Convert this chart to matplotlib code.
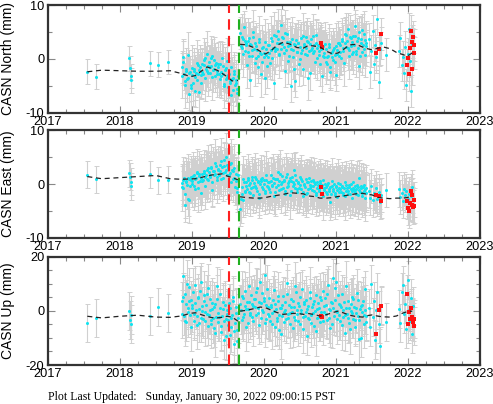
import numpy as np
import matplotlib
matplotlib.use('Agg')
import matplotlib.pyplot as plt
from matplotlib.ticker import MultipleLocator

plt.rcParams['font.family'] = ['Liberation Sans', 'DejaVu Sans']

# ---- data (decimal years, mm) ----
step = 6 / 365.25

early_yr = [2017.55, 2017.67, 2018.13, 2018.14, 2018.15, 2018.16, 2018.42, 2018.53, 2018.67]
north_early = [-2.4, -3.3, 0.1, -1.7, -3.2, -4.0, -0.8, -1.1, -0.6]
east_early = [1.7, 0.9, 2.0, 1.4, 0.4, -0.4, 1.8, 0.7, 0.8]
up_early = [-4.5, -2.6, -0.2, -3.5, -5.0, -1.5, -1.8, 1.5, -0.8]

# dense daily segments: start year of each segment
seg_start = [2018.86, 2019.675, 2021.46, 2021.88]
# in-between days of the two long segments
seg2_start = [2018.868, 2019.683]

north_a = [-1.5, 0.3, -2.8, -4.2, -1.9, -3.5, -6.5, -2.4, -4.8,
           -3.0, -1.8, -5.9, -2.6, -3.9, -1.2, -2.1, -4.4,
           -0.9, -2.8, -1.1, 0.2, -2.3, -1.4,
           -0.5, -2.6, -1.3, 0.6, -1.9, -3.1, -0.8, -2.2,
           -1.5, -3.8, -2.4, 0.1, -2.9, -4.6, -1.7, -3.4,
           -5.2, -2.8, -4.1, -6.8, -3.6, -2.2, -4.9, -3.9, -5.6]
north_b = [4.8, 2.1, 3.6, 5.9, 1.4, 3.0, 1.2, 3.8, -3.9, 2.5, 0.6, 4.1,
           2.9, 0.2, 1.7, -1.5, 3.2, 0.9, -0.6, 2.2, 1.0, -3.6, 1.9, 0.3,
           2.6, -0.8, 1.6, 3.3, -4.5, 2.0, 4.2, 1.8, 3.6, 0.9, 6.3, 2.7,
           3.9, 1.1, -2.2, 4.6, 2.4, 0.5, 3.1, -5.0, 1.7, 2.8, -4.1, 3.5,
           1.2, 2.9, 0.0, 3.8, 1.6, -1.9, 2.4, 4.0, 0.8, 3.1, 1.5, -2.7,
           3.7, 1.0, 2.6, -0.5, 4.4, 2.0, 0.7, 3.2, 1.8, -3.2, 2.3, 0.4,
           1.9, -1.0, 0.6, 2.8, -2.4, 1.3, -0.3, 2.1, 0.8, -3.0, 1.7, 3.0,
           2.5, 0.2, 3.6, 1.4, 4.7, 2.2, 3.4, 5.6, 1.7, 3.9, 0.9, 4.3,
           2.6, 6.1, 1.5, 3.8, 4.9, 0.6, 2.9, 5.3, 1.8, 3.5, 2.4]
north_c = [3.7, -2.5, 1.4, 5.2, -1.0, 2.6, 0.3, 7.4, -4.3, 1.9, 3.0]
north_d = [1.5, 3.9, -1.2, 0.4, -2.6, 2.2, -4.8, 0.9, 5.6, -0.4, -6.0, 2.8, 1.2]
north_a2 = [-3.1, -0.6, -4.9, -2.2, -3.8, 0.8, -2.6, -5.4, -1.7,
            -4.5, -2.2, -3.4, -0.7, -2.9, -6.2, -1.6, -3.0,
            -2.4, -0.3, -3.6, -1.8, 0.9, -2.7,
            -1.6, 0.1, -3.4, -2.0, -0.2, -1.2, -2.9, -1.0,
            -2.8, -0.9, -3.1, -1.4, -5.0, -2.0, -3.7, -0.4,
            -3.0, -4.4, -1.5, -3.8, -5.8, -2.9, -4.5, -6.3, -3.2]
north_b2 = [2.3, 4.1, 0.9, 3.3, 2.6, -1.2, 3.4, 0.5, 2.7, 1.6, 4.9, 1.9,
            -0.8, 2.4, 0.6, 3.7, 1.1, -2.8, 2.0, 0.4, 3.2, 0.8, -1.3, 2.5,
            1.0, 3.8, 0.2, 2.1, 4.5, 1.4, 2.9, 5.1, 0.7, 3.0, 1.9, 4.0,
            2.2, 4.8, 1.6, 3.2, -0.4, 2.6, 1.9, 3.6, 0.4, -1.8, 2.5, 1.3,
            3.0, -0.9, 2.2, 1.1, 4.3, 2.7, 0.9, 2.0, 3.4, -3.5, 2.8, 1.6,
            2.0, 4.2, 1.4, 3.0, 0.2, 2.6, 1.5, -0.9, 2.4, 0.6, 1.1, 2.7,
            -0.5, 0.4, 2.2, -1.6, 1.0, 0.3, 1.6, -0.6, 2.4, 0.9, 2.9, 0.5,
            1.2, 3.3, 2.0, -0.8, 3.0, 4.4, 2.1, 0.5, 4.0, 2.4, 3.1, 1.3,
            4.2, 0.9, 3.3, 2.0, -1.4, 3.6, 1.2, 2.5, 4.6, 0.8, 2.9]

east_a = [0.2, -0.8, 1.1, -3.9, 0.5, -2.7, 0.9, -0.3, 1.4,
          0.6, 1.7, -0.9, 1.2, 2.0, 0.4, 1.5, -1.6,
          1.9, 0.8, 2.4, 1.3, 2.7, 0.7,
          2.2, 1.6, 3.0, -1.1, 2.5, 1.9, 3.3, 1.4,
          2.8, 3.6, 0.9, 3.1, 2.0, 4.4, 2.6, 3.5,
          2.9, 1.6, 3.8, 0.3, 2.4, 1.2, -0.6, 1.9, -1.4]
east_b = [-4.6, -1.8, -3.0, 0.4, -1.2, -0.3, 0.8, -1.5, 0.2, -0.7, 1.4, -2.1,
          -0.4, 0.9, -1.3, 0.3, -2.6, 0.6, 1.2, -0.9, 0.0, -1.7, 0.7, -0.5,
          0.4, -1.4, 1.6, -0.2, -2.3, 0.9, -0.6, 1.0, 2.3, -1.1, 0.1, 1.5,
          -0.8, 0.6, -1.9, 1.8, -0.3, 0.5, 1.1, -1.2, 0.3, 2.6, -0.7, 0.8,
          -1.5, 0.2, 1.3, -0.9, 0.6, -2.2, -0.1, 0.9, -1.6, 0.4, 1.2, -0.8,
          -0.4, 0.7, -1.3, 0.1, -2.0, 0.3, -0.9, 0.5, -1.8, -0.2, 0.8, -1.1,
          -0.6, -1.9, 0.2, -1.3, -3.4, -0.4, -1.0, 0.1, -1.7, -0.5, -2.4, -0.8,
          0.0, -1.4, -0.6, -2.1, 0.3, -1.2, -0.7, -1.8, -0.2, -1.0, -2.6, 0.4,
          -1.1, -0.3, -1.9, -0.6, 1.2, -1.4, -0.8, -2.2, -0.1, -1.0, -1.6]
east_c = [-1.2, -2.5, -0.4, -3.0, -1.6, -2.1, -0.8, -2.8, -1.4, -3.3, -2.0]
east_d = [-1.0, -2.4, -1.6, -3.1, -0.9, -2.0, -1.3, -2.7, -1.8, -3.6, -2.2, -0.6, -2.9]
east_a2 = [-0.6, 0.7, -1.9, 0.4, -0.2, 1.2, -2.9, 0.8, 0.1,
           1.5, -0.4, 0.9, 2.2, -0.7, 1.8, 0.5, 1.1,
           0.6, 2.0, -0.3, 1.7, 1.0, 2.9,
           1.3, 3.1, 0.4, 2.4, 1.6, 3.9, 0.8, 2.6,
           1.7, 2.5, 4.2, 1.2, 3.4, 2.3, 5.0, 1.6,
           3.2, 2.1, 4.0, 2.7, 1.0, 3.0, 0.5, -0.8, 1.6]
east_b2 = [-2.8, -0.6, 0.9, -1.4, 0.3, -0.9, 1.1, -0.2, -1.6, 0.7, -0.5, 0.2,
           1.3, -0.8, 0.5, -1.9, 0.0, 1.0, -0.6, 0.8, -1.2, 1.7, -0.3, 0.4,
           -1.0, 0.6, -0.4, 1.2, 0.2, -1.5, 0.9, -0.2, 0.5, 1.9, -0.9, 0.3,
           0.7, -1.3, 1.4, -0.5, 0.2, -2.0, 0.5, 1.3, -0.4, 0.0, 1.6, -1.0,
           0.4, -0.7, -0.2, 1.0, -1.4, 0.1, -0.6, -1.8, 0.3, -0.9, -0.2, 0.6,
           -1.1, -0.3, 0.4, -1.6, -0.7, -0.1, -1.3, 0.2, -0.5, -2.2, -0.8, 0.0,
           -1.4, -0.2, -1.0, -0.6, -1.8, 0.5, -1.2, -2.0, -0.4, -1.1, 0.2, -1.5,
           -0.9, -0.3, -1.6, -0.8, -2.3, -0.2, -1.3, -0.5, -1.9, 0.1, -1.2, -0.7,
           -1.5, -0.9, -0.2, -2.0, -1.1, -0.4, -1.7, -0.6, -1.3, -2.5, -0.8]

up_a = [3.5, 12.8, -2.0, 6.4, -4.1, 1.2, 8.7, -1.5, 4.0,
        2.1, -3.6, 9.5, 0.4, -1.8, 5.3, -4.6, 10.6,
        1.7, -2.9, 3.8, -0.6, 6.1, -5.7,
        -1.4, 4.2, -3.3, 0.7, -6.5, 2.5, -2.2, 9.1,
        -4.0, 1.0, -7.8, -1.9, 3.4, -10.8, -3.1, 0.2,
        -5.4, 2.8, -8.9, -2.6, 5.0, -12.4, -4.3, 1.5, -6.9]
up_b = [2.5, -3.4, 4.8, -1.0, 7.2, 0.6, -4.5, 3.1, -0.8, 5.9, -2.3, 1.7,
        4.4, -1.6, 8.3, 0.9, -5.2, 2.8, 6.5, -0.4, 3.7, 13.2, -2.9, 1.5,
        4.9, -3.8, 2.1, -0.7, 7.6, -5.9, 0.8, -2.5, 3.6, -7.1, 1.2, -1.8,
        5.4, -4.2, 0.3, 10.4, -2.6, 2.0, -0.9, 4.5, -6.4, 1.6, -3.5, 6.8,
        -1.2, 2.9, -4.8, 0.5, 8.1, -2.1, 3.3, -0.6, -9.2, 1.8, -3.0, 4.7,
        -1.7, 2.4, -5.5, 0.1, 6.0, -2.8, 1.1, -4.0, 3.9, -1.5, 7.4, -0.3,
        2.2, -3.3, 9.6, 0.7, -6.2, 3.0, 12.0, -1.9, 4.1, 10.8, -0.5, 2.6,
        -3.7, 1.4, 6.3, -2.4, -8.0, 0.9, -1.1, 3.8, -4.6, 0.0, 5.2, -2.9,
        1.6, -5.8, -0.7, 4.0, -3.2, 0.6, -9.9, 2.3, -1.6, 7.9, -4.1]
up_c = [1.2, -6.0, 9.8, -2.4, 3.5, -10.9, 0.4, 7.0, -4.7, -13.0, 2.1]
up_d = [0.8, -4.6, 6.9, 9.5, -1.3, 2.4, -6.7, 11.3, 0.2, -3.8, 4.6, -8.5, 1.9]
up_a2 = [-1.2, 5.1, -3.8, 2.4, 9.8, -0.5, 3.6, -6.0, 1.1,
         6.8, -1.0, 2.9, -5.1, 4.6, 0.8, 7.5, -2.5,
         -0.2, 5.7, -3.9, 2.2, -1.1, 8.4,
         0.5, -4.8, 3.0, -2.7, 1.5, -8.2, 4.3, -0.9,
         -2.3, 6.4, -5.5, 0.6, -3.7, 2.1, -9.3, -1.0,
         -3.3, 0.9, -6.1, -1.4, 3.7, -7.4, -0.8, -11.0, -2.8]
up_b2 = [0.3, 5.6, -2.1, 1.9, -5.8, 3.4, 0.7, 9.1, -1.4, 2.6, -3.9, 4.2,
         1.5, 6.9, -0.9, 3.2, 10.7, -2.6, 0.4, 4.8, -4.4, 2.0, 7.9, -1.3,
         -2.0, 1.3, -5.0, 3.9, -0.2, 2.7, -3.6, 5.5, -1.5, 0.9, -8.6, 2.2,
         -0.4, 3.1, -2.9, 6.2, -1.1, -4.7, 1.4, -0.6, 3.5, -2.2, 9.0, 0.2,
         -3.9, 1.7, 5.3, -0.8, -6.6, 2.5, -1.9, 4.0, 0.6, -2.5, 7.1, -4.3,
         1.3, -0.9, 3.6, -7.5, 0.8, 2.9, -2.2, 5.1, -0.5, -3.6, 1.9, 4.6,
         -1.0, 6.4, -2.8, 0.4, 3.3, -4.9, 1.2, 8.6, -0.2, -3.1, 5.7, -1.7,
         2.0, -5.3, 0.5, 3.4, -1.6, 9.3, -2.7, 1.0, -6.8, 2.7, -0.9, 4.4,
         -3.4, 0.9, 6.6, -2.0, -10.5, 1.8, -0.3, 3.6, -4.9, 0.4, -1.8]

lone_yr = [2021.70]
north_lone = [0.8]
east_lone = [-1.1]
up_lone = [-4.0]

red_yr = [2020.79, 2020.81, 2021.56, 2021.60, 2021.62, 2021.99, 2022.00, 2022.02,
          2022.03, 2022.04, 2022.05, 2022.06, 2022.07, 2022.08, 2022.09]
north_red = [2.9, 2.2, 1.0, 1.9, 4.6, -1.2, 0.2, -2.9, 2.0, 5.2, 3.2, -1.8, 4.1, 2.6, 1.1]
east_red = [-0.5, -1.8, -2.0, -2.3, -3.1, -3.2, -4.4, -5.0, -3.5, -1.3, -3.8, -2.1, -4.3, -2.9, -4.0]
up_red = [-1.9, -2.2, -8.7, 0.3, 1.8, 6.3, -4.8, -0.5, -2.9, 1.0, -2.6, -2.3, -4.2, -5.6, -3.0]

# error sizes: early points, dense days, in-between days
north_sig = [2.3, 3.0, 4.2]
east_sig = [2.5, 3.2, 4.4]
up_sig = [7.0, 7.0, 9.0]

# smoothed model (black dashes), broken at the offset
trend_yr = [2017.55, 2017.75, 2018.0, 2018.25, 2018.5, 2018.7, 2018.85, 2018.98, 2019.05,
            2019.12, 2019.21, 2019.28, 2019.35, 2019.42, 2019.49, 2019.56, 2019.64, 2019.655,
            2019.67, 2019.76, 2019.86, 2019.95, 2020.02, 2020.09, 2020.18, 2020.27, 2020.37,
            2020.46, 2020.55, 2020.62, 2020.69, 2020.78, 2020.87, 2020.96, 2021.03, 2021.10,
            2021.19, 2021.28, 2021.37, 2021.43, 2021.50, 2021.59, 2021.66, 2021.75, 2021.84,
            2021.93, 2021.99, 2022.06]
north_trend = [-2.4, -2.1, -2.2, -2.3, -2.3, -2.2, -2.7, -3.3, -3.1, -2.4, -1.5, -1.8, -2.1,
               -2.7, -3.3, -4.1, -4.0, np.nan,
               2.7, 2.6, 2.1, 1.4, 0.9, 1.4, 2.5, 3.1, 2.7, 2.1, 2.0, 2.5, 2.4, 2.2, 1.4,
               0.9, 1.1, 1.7, 2.6, 2.7, 2.2, 1.9, 1.7, 2.0, 2.2, 1.9, 1.2, 0.8, 0.5, 1.1]
east_trend = [1.4, 1.0, 1.2, 1.4, 1.6, 1.0, 0.9, 0.95, 1.0, 1.2, 1.5, 1.7, 1.8, 1.9, 1.5,
              1.2, 0.8, np.nan,
              -2.35, -2.5, -2.6, -2.6, -2.5, -2.3, -2.1, -1.9, -1.6, -1.7, -1.8, -2.2, -2.3,
              -2.6, -2.6, -2.5, -2.3, -2.2, -2.0, -1.8, -1.7, -1.9, -2.0, -2.5, -2.6, -2.7,
              -2.6, -2.6, -2.5, -2.2]
up_trend = [-2.0, -2.6, -2.0, -1.6, -2.3, -2.4, -1.9, -0.9, -0.7, -1.3, -2.1, -2.5, -2.6,
            -2.4, -2.0, -2.3, -3.8, np.nan,
            -0.1, 0.2, 0.8, 1.4, 1.2, 0.4, -0.6, -1.3, -1.0, -0.9, -1.3, -1.0, -1.3, -1.9,
            -1.4, -0.6, -0.1, -0.7, -1.6, -2.1, -2.3, -1.8, -1.5, -2.0, -2.2, -2.3, -1.9,
            -0.8, -0.3, -0.1]

eq_red = 2019.51
eq_green = 2019.66
years = list(range(2017, 2024))

panels = [
    ('CASN North (mm)', 10, north_early, [north_a, north_b, north_c, north_d],
     [north_a2, north_b2], north_lone, north_red, north_sig, north_trend),
    ('CASN East (mm)', 10, east_early, [east_a, east_b, east_c, east_d],
     [east_a2, east_b2], east_lone, east_red, east_sig, east_trend),
    ('CASN Up (mm)', 20, up_early, [up_a, up_b, up_c, up_d],
     [up_a2, up_b2], up_lone, up_red, up_sig, up_trend),
]

fig = plt.figure(figsize=(4.93, 4.04), dpi=100)
boxes = [(0.0968, 0.721, 0.8768, 0.2666),
         (0.0968, 0.411, 0.8768, 0.2666),
         (0.0968, 0.0965, 0.8768, 0.2681)]

for (label, lim, early, segs, segs2, lone, red, sig, trend), box in zip(panels, boxes):
    ax = fig.add_axes(box)
    xs = list(early_yr)
    ys = list(early)
    es = [sig[0]] * len(early)
    for s0, vals in zip(seg_start, segs):
        xs += list(s0 + step * np.arange(len(vals)))
        ys += list(vals)
        es += [sig[1]] * len(vals)
    for s0, vals in zip(seg2_start, segs2):
        xs += list(s0 + step * np.arange(len(vals)))
        ys += list(vals)
        es += [sig[2]] * len(vals)
    xs += lone_yr
    ys += lone
    es += [sig[1]] * len(lone)
    ax.errorbar(xs + red_yr, ys + red, yerr=es + [sig[1]] * len(red), fmt='none',
                ecolor='#d0d0d0', elinewidth=0.8, capsize=1.8, capthick=0.7, zorder=1)
    ax.plot(xs, ys, 'o', color='#10e4f0', ms=2.2, mew=0, zorder=2)
    ax.plot(red_yr, red, 's', color='#ff1010', ms=2.3, mew=0, zorder=3)
    ax.plot(trend_yr, trend, color='#222222', lw=0.9, dashes=(4, 3), zorder=4)
    ax.axvline(eq_red, color='#ff2020', lw=1.5, dashes=(5, 3), zorder=5)
    ax.axvline(eq_green, color='#20b020', lw=1.5, dashes=(5, 3), zorder=5)

    ax.set_xlim(2017, 2023)
    ax.set_ylim(-lim, lim)
    ax.set_xticks(years)
    ax.set_xticklabels([str(y) for y in years])
    ax.xaxis.set_minor_locator(MultipleLocator(0.25))
    ax.set_yticks([-lim, 0, lim])
    ax.set_yticklabels(['-%d' % lim, '0', '%d' % lim])
    ax.yaxis.set_minor_locator(MultipleLocator(5))
    ax.tick_params(which='both', direction='in', top=True, right=True,
                   color='#888888', labelsize=9.2, pad=2.5)
    ax.tick_params(which='major', length=5, width=0.8)
    ax.tick_params(which='minor', length=3, width=0.8)
    for sp in ax.spines.values():
        sp.set_linewidth(1.6)
        sp.set_color('#333333')
    ax.set_ylabel(label, fontsize=10)
    ax.yaxis.set_label_coords(-0.075, 0.5)

fig.text(0.097, 0.01, 'Plot Last Updated:   Sunday, January 30, 2022 09:00:15 PST',
         family=['Liberation Serif', 'DejaVu Serif'], fontsize=8.5)

fig.savefig('out.png', dpi=100)
